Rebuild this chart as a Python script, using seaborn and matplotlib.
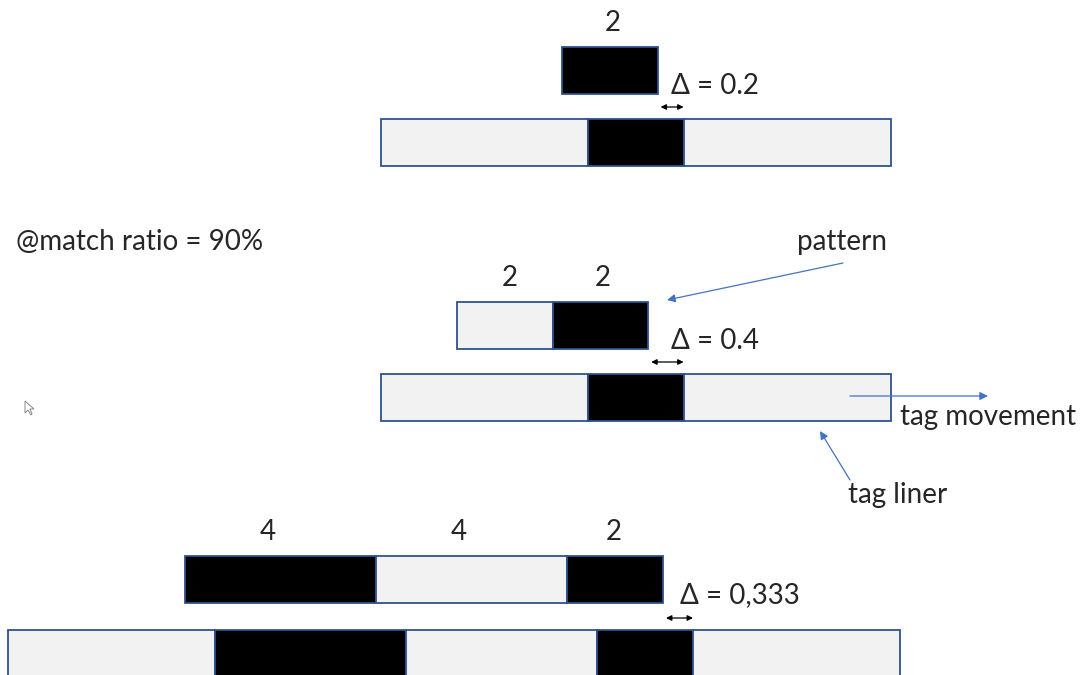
import matplotlib.pyplot as plt
import seaborn as sns
from matplotlib.patches import Polygon

sns.set_theme(style="white")
plt.rcParams['font.family'] = ['Lato', 'DejaVu Sans']

# segment lengths (units) and whether a segment is a black mark (1) or a gap (0)
pattern_widths = [[2], [2, 2], [4, 4, 2]]
pattern_marks = [[1], [0, 1], [1, 0, 1]]
pattern_labels = [["2"], ["2", "2"], ["4", "4", "2"]]
liner_widths = [[4.33, 2, 4.33], [4.33, 2, 4.33], [4.33, 4, 4, 2, 4.33]]
liner_marks = [[0, 1, 0], [0, 1, 0], [0, 1, 0, 1, 0]]
deltas = ["0.2", "0.4", "0,333"]
match_ratio = "90%"

# layout (pixels)
UNIT = 47.8
H = 47
pattern_left = [562, 457, 185]
pattern_top = [47, 302, 556]
liner_left = [381, 381, 8]
liner_top = [119, 374, 630]
label_dx = [[3], [5, 2], [-13, -13, -1]]

EDGE = "#2F528F"
LIGHT = "#F2F2F2"
BLUE = "#4472C4"
FS = 20

fig = plt.figure(figsize=(10.8, 6.75), dpi=100)
ax = fig.add_axes([0, 0, 1, 1])
ax.set_xlim(0, 1080)
ax.set_ylim(675, 0)
ax.axis("off")


def draw_strip(left, top, widths, marks):
    x = left
    spans = []
    for w, m in zip(widths, marks):
        ax.barh(top + H / 2, w * UNIT, left=x, height=H,
                color="black" if m else LIGHT, edgecolor=EDGE, linewidth=1.3)
        spans.append((x, x + w * UNIT, m))
        x += w * UNIT
    return spans


for i in range(3):
    p = draw_strip(pattern_left[i], pattern_top[i], pattern_widths[i], pattern_marks[i])
    l = draw_strip(liner_left[i], liner_top[i], liner_widths[i], liner_marks[i])
    for (a, b, _), lab, dx in zip(p, pattern_labels[i], label_dx[i]):
        ax.text((a + b) / 2 + dx, pattern_top[i] - 24, lab, ha="center", va="center",
                fontsize=FS)
    p_end = p[-1][1]
    l_end = [s for s in l if s[2] == 1][-1][1]
    ay = liner_top[i] - 12
    ax.annotate("", xy=(l_end, ay), xytext=(p_end + 3, ay),
                arrowprops=dict(arrowstyle="<|-|>", color="black", lw=0.9,
                                mutation_scale=8, shrinkA=0, shrinkB=0))
    ax.text(l_end - 13, pattern_top[i] + H - 8, "Δ = " + deltas[i],
            ha="left", va="center", fontsize=FS)

ax.text(16, 242, "@match ratio = " + match_ratio, ha="left", va="center", fontsize=FS)

# callouts
ax.text(797, 242, "pattern", ha="left", va="center", fontsize=FS)
ax.annotate("", xy=(667, 300), xytext=(843, 263),
            arrowprops=dict(arrowstyle="-|>", color=BLUE, lw=0.9, mutation_scale=12,
                            shrinkA=0, shrinkB=0))
ax.text(900, 417, "tag movement", ha="left", va="center", fontsize=FS)
ax.annotate("", xy=(988, 396), xytext=(850, 396),
            arrowprops=dict(arrowstyle="-|>", color=BLUE, lw=0.9, mutation_scale=12,
                            shrinkA=0, shrinkB=0))
ax.text(848, 495, "tag liner", ha="left", va="center", fontsize=FS)
ax.annotate("", xy=(820, 431), xytext=(850, 480),
            arrowprops=dict(arrowstyle="-|>", color=BLUE, lw=0.9, mutation_scale=12,
                            shrinkA=0, shrinkB=0))

# stray mouse cursor
ax.add_patch(Polygon([(25, 401), (25, 413), (28, 410), (31, 415), (32, 414),
                      (30, 409), (34, 409)], closed=True, facecolor="white",
                     edgecolor="#888888", linewidth=0.7))

fig.savefig("out.png", dpi=100)
